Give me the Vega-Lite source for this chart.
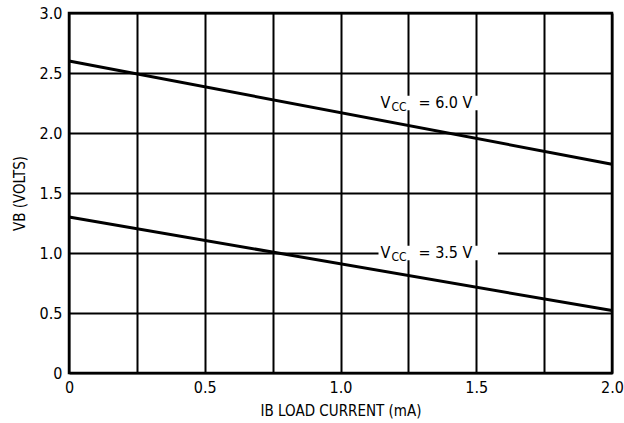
{
  "$schema": "https://vega.github.io/schema/vega-lite/v6.json",
  "width": 543,
  "height": 360,
  "autosize": "none",
  "padding": {"left": 69, "top": 13, "right": 12, "bottom": 50},
  "background": "white",
  "config": {
    "view": {"stroke": "black", "strokeWidth": 2.5},
    "font": "DejaVu Sans Condensed, Liberation Sans Narrow, Liberation Sans, sans-serif",
    "axis": {
      "grid": true, "gridColor": "black", "gridWidth": 2, "gridOpacity": 1,
      "ticks": false, "domain": false,
      "labelFont": "DejaVu Sans Condensed, Liberation Sans Narrow, Liberation Sans, sans-serif",
      "labelFontSize": 16, "labelColor": "black",
      "titleFont": "DejaVu Sans Condensed, Liberation Sans Narrow, Liberation Sans, sans-serif",
      "titleFontSize": 15, "titleFontWeight": "normal", "titleColor": "black"
    }
  },
  "datasets": {
    "lines": [
      {"vcc": "6.0", "i": 0, "v": 2.6},
      {"vcc": "6.0", "i": 2.0, "v": 1.74},
      {"vcc": "3.5", "i": 0, "v": 1.3},
      {"vcc": "3.5", "i": 2.0, "v": 0.52}
    ],
    "labels": [
      {"vcc": "6.0", "i": 1.14, "i2": 1.59, "v": 2.25, "vlo": 2.19, "vhi": 2.31, "rest": "=  6.0 V"},
      {"vcc": "3.5", "i": 1.14, "i2": 1.58, "v": 1.0, "vlo": 0.94, "vhi": 1.06, "rest": "=  3.5 V"}
    ]
  },
  "layer": [
    {
      "data": {"name": "lines"},
      "mark": {"type": "line", "color": "black", "strokeWidth": 3},
      "encoding": {
        "x": {
          "field": "i", "type": "quantitative",
          "scale": {"domain": [0, 2], "nice": false, "zero": false},
          "axis": {
            "values": [0, 0.25, 0.5, 0.75, 1, 1.25, 1.5, 1.75, 2],
            "labelExpr": "datum.value == 0 ? '0' : ((datum.value * 2) % 1 == 0 ? format(datum.value, '.1f') : '')",
            "labelPadding": 6, "labelFlush": false,
            "title": "IB LOAD CURRENT (mA)", "titlePadding": 8
          }
        },
        "y": {
          "field": "v", "type": "quantitative",
          "scale": {"domain": [0, 3], "nice": false},
          "axis": {
            "values": [0, 0.25, 0.5, 0.75, 1, 1.25, 1.5, 1.75, 2, 2.25, 2.5, 2.75, 3],
            "labelExpr": "datum.value == 0 ? '0' : ((datum.value * 2) % 1 == 0 ? format(datum.value, '.1f') : '')",
            "labelPadding": 7,
            "title": "VB (VOLTS)", "titlePadding": 12
          }
        },
        "detail": {"field": "vcc"}
      }
    },
    {
      "data": {"name": "labels"},
      "mark": {"type": "rect", "color": "white"},
      "encoding": {
        "x": {"field": "i", "type": "quantitative"},
        "x2": {"field": "i2"},
        "y": {"field": "vlo", "type": "quantitative"},
        "y2": {"field": "vhi"}
      }
    },
    {
      "data": {"name": "labels"},
      "mark": {"type": "text", "text": "V", "align": "left", "baseline": "middle", "fontSize": 16, "color": "black", "dx": 2},
      "encoding": {
        "x": {"field": "i", "type": "quantitative"},
        "y": {"field": "v", "type": "quantitative"}
      }
    },
    {
      "data": {"name": "labels"},
      "mark": {"type": "text", "text": "CC", "align": "left", "baseline": "middle", "fontSize": 12, "color": "black", "dx": 13, "dy": 4},
      "encoding": {
        "x": {"field": "i", "type": "quantitative"},
        "y": {"field": "v", "type": "quantitative"}
      }
    },
    {
      "data": {"name": "labels"},
      "mark": {"type": "text", "align": "left", "baseline": "middle", "fontSize": 16, "color": "black", "dx": 40},
      "encoding": {
        "x": {"field": "i", "type": "quantitative"},
        "y": {"field": "v", "type": "quantitative"},
        "text": {"field": "rest"}
      }
    }
  ]
}
